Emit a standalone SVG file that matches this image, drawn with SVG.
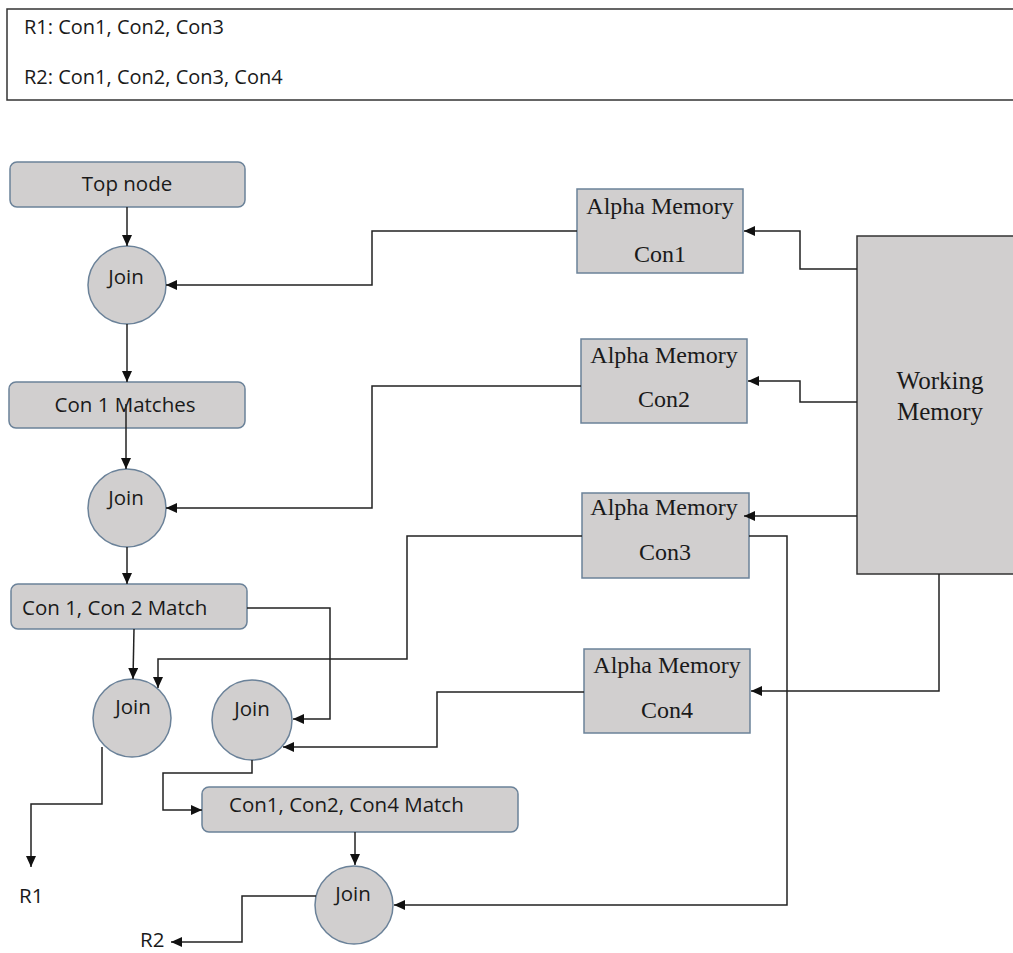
<svg xmlns="http://www.w3.org/2000/svg" width="1013" height="953" viewBox="0 0 1013 953">
  <defs>
    <marker id="arrow" markerUnits="userSpaceOnUse" markerWidth="12" markerHeight="10" refX="11" refY="5" orient="auto">
      <path d="M0,0 L11,5 L0,10 z" fill="#111"/>
    </marker>
    <style>
      .rule { fill: #fff; stroke: #333; stroke-width: 1.5; }
      .rbox { fill: #d1cfcf; stroke: #6b8299; stroke-width: 1.5; }
      .mem  { fill: #d1cfcf; stroke: #6b8299; stroke-width: 1.5; }
      .wm   { fill: #d1cfcf; stroke: #333; stroke-width: 1.5; }
      .join { fill: #d1cfcf; stroke: #6b8299; stroke-width: 1.5; }
      .sans { font-family: "Open Sans", "Liberation Sans", sans-serif; font-size: 20.5px; fill: #1a1a1a; }
      .small { font-size: 20px; }
      .serif { font-family: "Liberation Serif", "Times New Roman", serif; font-size: 24px; fill: #1a1a1a; }
      .big { font-size: 25px; }
      .mid { text-anchor: middle; }
      .conn path { fill: none; stroke: #222; stroke-width: 1.5; }
      .conn .arr { marker-end: url(#arrow); }
    </style>
  </defs>
  <rect width="1013" height="953" fill="#fff"/>

  <!-- rule list -->
  <g id="rules">
    <rect class="rule" x="7" y="9" width="1010" height="91"/>
    <text class="sans small" x="24" y="34">R1: Con1, Con2, Con3</text>
    <text class="sans small" x="24" y="84">R2: Con1, Con2, Con3, Con4</text>
  </g>

  <!-- beta network nodes -->
  <g id="top-node">
    <rect class="rbox" x="10" y="162" width="235" height="45" rx="7"/>
    <text class="sans mid" x="127" y="191">Top node</text>
  </g>
  <g id="join1">
    <circle class="join" cx="127" cy="285" r="39"/>
    <text class="sans mid" x="126" y="284">Join</text>
  </g>
  <g id="con1-matches">
    <rect class="rbox" x="9" y="382" width="236" height="46" rx="7"/>
    <text class="sans mid" x="125" y="412">Con 1 Matches</text>
  </g>
  <g id="join2">
    <circle class="join" cx="127" cy="508" r="39"/>
    <text class="sans mid" x="126" y="505">Join</text>
  </g>
  <g id="con12-match">
    <rect class="rbox" x="11" y="584" width="236" height="45" rx="7"/>
    <text class="sans" x="22" y="615">Con 1, Con 2 Match</text>
  </g>
  <g id="join3">
    <circle class="join" cx="132" cy="718" r="39"/>
    <text class="sans mid" x="133" y="714">Join</text>
  </g>
  <g id="join4">
    <circle class="join" cx="252" cy="720" r="40"/>
    <text class="sans mid" x="252" y="716">Join</text>
  </g>
  <g id="con124-match">
    <rect class="rbox" x="202" y="787" width="316" height="45" rx="7"/>
    <text class="sans" x="229" y="812">Con1, Con2, Con4 Match</text>
  </g>
  <g id="join5">
    <circle class="join" cx="354" cy="905" r="39"/>
    <text class="sans mid" x="353" y="901">Join</text>
  </g>

  <!-- alpha memories -->
  <g id="alpha-con1">
    <rect class="mem" x="577" y="189" width="166" height="84"/>
    <text class="serif mid" x="660" y="214">Alpha Memory</text>
    <text class="serif mid" x="660" y="262">Con1</text>
  </g>
  <g id="alpha-con2">
    <rect class="mem" x="581" y="339" width="166" height="84"/>
    <text class="serif mid" x="664" y="363">Alpha Memory</text>
    <text class="serif mid" x="664" y="407">Con2</text>
  </g>
  <g id="alpha-con3">
    <rect class="mem" x="582" y="493" width="167" height="85"/>
    <text class="serif mid" x="664" y="515">Alpha Memory</text>
    <text class="serif mid" x="665" y="560">Con3</text>
  </g>
  <g id="alpha-con4">
    <rect class="mem" x="584" y="649" width="166" height="84"/>
    <text class="serif mid" x="667" y="673">Alpha Memory</text>
    <text class="serif mid" x="667" y="718">Con4</text>
  </g>

  <!-- working memory -->
  <g id="working-memory">
    <rect class="wm" x="857" y="236" width="160" height="338"/>
    <text class="serif big mid" x="940" y="389">Working</text>
    <text class="serif big mid" x="940" y="420">Memory</text>
  </g>

  <!-- outputs -->
  <g id="out-r1">
    <text class="sans" x="19" y="903">R1</text>
  </g>
  <g id="out-r2">
    <text class="sans" x="140" y="947">R2</text>
  </g>

  <!-- connectors -->
  <g id="connectors" class="conn">
    <path class="arr" d="M127,207 V246"/>
    <path class="arr" d="M577,231 H372 V285 H166"/>
    <path class="arr" d="M857,269 H800 V231 H744"/>
    <path class="arr" d="M127,324 V382"/>
    <path class="arr" d="M126,404 V469"/>
    <path class="arr" d="M581,386 H372 V508 H166"/>
    <path class="arr" d="M857,402 H800 V381 H748"/>
    <path class="arr" d="M127,547 V584"/>
    <path class="arr" d="M134,629 L133,679"/>
    <path class="arr" d="M582,536 H407 V659 H158 V688"/>
    <path class="arr" d="M857,516 H744"/>
    <path class="arr" d="M247,608 H330 V719 H293"/>
    <path class="arr" d="M584,692 H437 V747 H283"/>
    <path class="arr" d="M939,574 V691 H751"/>
    <path class="arr" d="M749,536 H787 V905 H394"/>
    <path class="arr" d="M102,747 V804 H31 V867"/>
    <path class="arr" d="M252,760 V773 H163 V810 H202"/>
    <path class="arr" d="M355,832 V865"/>
    <path class="arr" d="M316,896 H242 V942 H171"/>
  </g>
</svg>
